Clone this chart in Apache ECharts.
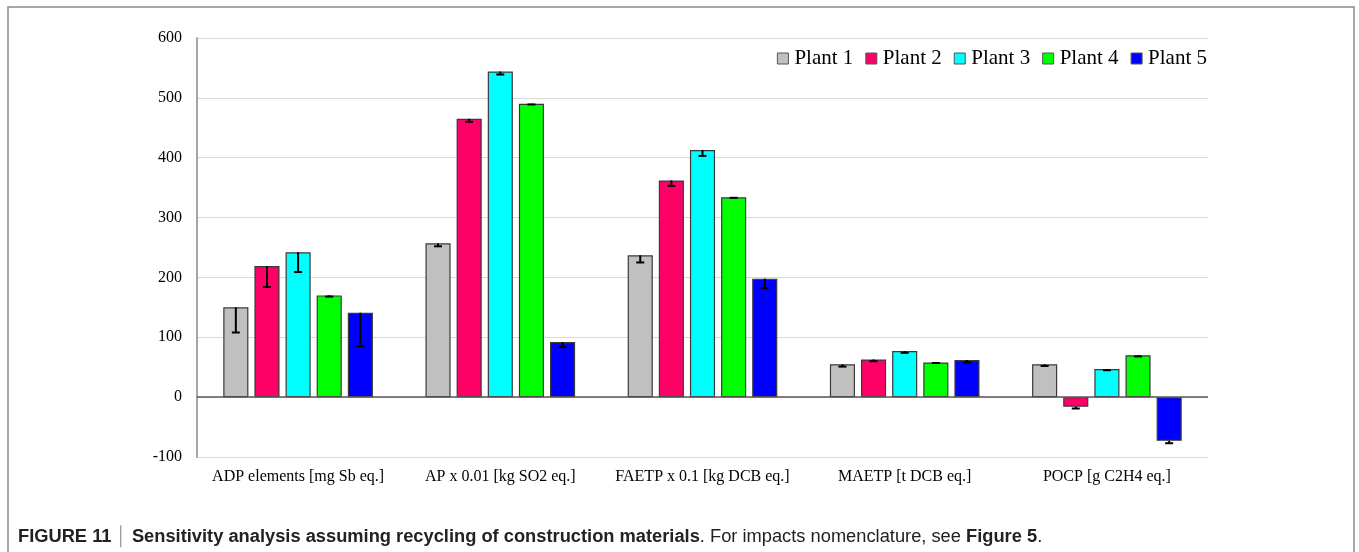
<!DOCTYPE html>
<html>
<head>
<meta charset="utf-8">
<script src="https://cdn.jsdelivr.net/npm/echarts@6/dist/echarts.min.js"></script>
<style>html,body{margin:0;padding:0;background:#fff;}#c{width:1359px;height:552px;}</style>
</head>
<body>
<div id="c"></div>
<script>
const categories = ['ADP elements [mg Sb eq.]', 'AP x 0.01 [kg SO2 eq.]', 'FAETP x 0.1 [kg DCB eq.]', 'MAETP [t DCB eq.]', 'POCP [g C2H4 eq.]'];
const plantNames = ['Plant 1', 'Plant 2', 'Plant 3', 'Plant 4', 'Plant 5'];
const plant1 = [150, 257, 237, 55, 55];
const plant2 = [219, 465, 362, 63, -16];
const plant3 = [242, 544, 413, 77, 47];
const plant4 = [170, 490, 334, 58, 70];
const plant5 = [141, 92, 198, 62, -73];
const err1 = [42, 5, 12, 4, 3];
const err2 = [35, 5, 9, 3, 3];
const err3 = [33, 5, 10, 3, 2];
const err4 = [2, 1, 1, 1, 2];
const err5 = [56, 8, 16, 4, 4];
const yTicks = [-100, 0, 100, 200, 300, 400, 500, 600];

const values = [plant1, plant2, plant3, plant4, plant5];
const errors = [err1, err2, err3, err4, err5];
const colors = ['#c0c0c0', '#ff0066', '#00ffff', '#00ff00', '#0000ff'];
const CAT_GAP = 0.26, BAR_GAP = 0.24, N = 5;

const series = [];
values.forEach((vals, i) => {
  series.push({
    name: plantNames[i], type: 'bar', data: vals,
    barCategoryGap: '26%', barGap: '24%',
    itemStyle: { color: colors[i], borderColor: '#3a3a3a', borderWidth: 1.2 },
    markLine: i === 0 ? { silent: true, symbol: 'none', label: { show: false },
      lineStyle: { color: '#595959', width: 1.5, type: 'solid' }, data: [{ yAxis: 0 }] } : undefined,
    z: 2
  });
});
values.forEach((vals, i) => {
  series.push({
    type: 'custom', silent: true, z: 5,
    data: vals.map((v, k) => [k, v, v - errors[i][k]]),
    encode: { x: 0, y: [1, 2] },
    renderItem: function (params, api) {
      const k = api.value(0);
      const top = api.coord([k, api.value(1)]);
      const low = api.coord([k, api.value(2)]);
      const bw = api.size([1, 0])[0];
      const total = bw * (1 - CAT_GAP);
      const barW = total / (N + (N - 1) * BAR_GAP);
      const x = top[0] - total / 2 + i * barW * (1 + BAR_GAP) + barW / 2;
      const cap = 4;
      return { type: 'group', children: [
        { type: 'line', shape: { x1: x, y1: top[1], x2: x, y2: low[1] }, style: { stroke: '#000', lineWidth: 2 } },
        { type: 'line', shape: { x1: x - cap, y1: low[1], x2: x + cap, y2: low[1] }, style: { stroke: '#000', lineWidth: 2 } }
      ]};
    }
  });
});

const chart = echarts.init(document.getElementById('c'));
chart.setOption({
  backgroundColor: '#fff',
  animation: false,
  textStyle: { fontFamily: 'Liberation Serif' },
  graphic: [{ type: 'rect', shape: { x: 8, y: 7, width: 1346, height: 700 },
    style: { fill: 'none', stroke: '#8a8a8a', lineWidth: 1.5 }, silent: true }],
  title: {
    left: 13, top: 523,
    text: '{b|FIGURE 11} {s|\u2502} {b|Sensitivity analysis assuming recycling of construction materials}{n|. For impacts nomenclature, see }{b|Figure 5}{n|.}',
    textStyle: { fontWeight: 'normal', rich: {
      b: { fontFamily: 'Liberation Sans', fontWeight: 'bold', fontSize: 18.3, color: '#222' },
      n: { fontFamily: 'Liberation Sans', fontWeight: 'normal', fontSize: 18.3, color: '#222' },
      s: { fontFamily: 'Liberation Sans', fontWeight: 'normal', fontSize: 18.3, color: '#999' }
    } }
  },
  legend: {
    data: plantNames, right: 147, top: 43, itemWidth: 11, itemHeight: 11, itemGap: 12,
    icon: 'rect',
    itemStyle: { borderColor: '#555', borderWidth: 1 },
    textStyle: { fontFamily: 'Liberation Serif', fontSize: 21, color: '#000', padding: [0, 0, 0, 1] }
  },
  grid: { left: 197, right: 151, top: 38, bottom: 95, containLabel: false },
  xAxis: {
    type: 'category', data: categories,
    axisLine: { show: false, onZero: false }, axisTick: { show: false },
    axisLabel: { fontFamily: 'Liberation Serif', fontSize: 16, color: '#000', margin: 12, interval: 0 }
  },
  yAxis: {
    type: 'value', min: yTicks[0], max: yTicks[yTicks.length - 1], interval: 100,
    axisLine: { show: true, lineStyle: { color: '#a6a6a6', width: 2 } },
    axisTick: { show: false },
    splitLine: { lineStyle: { color: '#d9d9d9', width: 1 } },
    axisLabel: { fontFamily: 'Liberation Serif', fontSize: 16, color: '#000', margin: 15 }
  },
  series: series
});
</script>
</body>
</html>
